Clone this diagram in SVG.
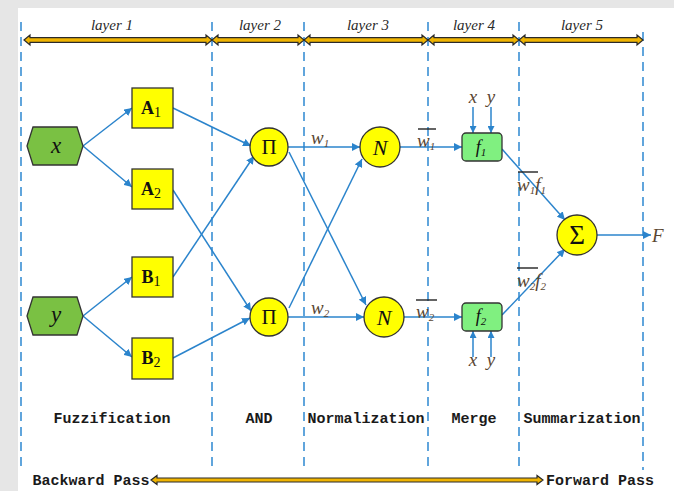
<svg xmlns="http://www.w3.org/2000/svg" width="674" height="491" viewBox="0 0 674 491">
<defs>
<marker id="arr" viewBox="0 0 10 10" refX="10" refY="5" markerWidth="8" markerHeight="8" markerUnits="userSpaceOnUse" orient="auto">
<path d="M0,0 L10,5 L0,10 z" fill="#2B84CC"/>
</marker>
<marker id="arrs" viewBox="0 0 10 10" refX="10" refY="5" markerWidth="7" markerHeight="7" markerUnits="userSpaceOnUse" orient="auto">
<path d="M0,0 L10,5 L0,10 z" fill="#2B84CC"/>
</marker>
</defs>
<style>
.dash{stroke:#3A8FD4;stroke-width:1.6;stroke-dasharray:9,6;fill:none}
.gold{fill:#F0B400;stroke:#2a2a2a;stroke-width:1.2}
.con line{stroke:#2B84CC;stroke-width:1.5;marker-end:url(#arr)}
.lay{font-family:"Liberation Serif",serif;font-style:italic;font-size:15px;fill:#2a2a2a;text-anchor:middle}
.bot{font-family:"Liberation Mono",monospace;font-weight:bold;font-size:15px;fill:#1a1a1a;text-anchor:middle}
.hex{fill:#7AC143;stroke:#333;stroke-width:1.3}
.box{fill:#FFFF00;stroke:#333;stroke-width:1.3}
.circ{fill:#FFFF00;stroke:#333;stroke-width:1.3}
.fbox{fill:#80F080;stroke:#333;stroke-width:1.3}
.lbl{font-family:"Liberation Serif",serif;font-style:italic;font-size:19px;fill:#5a4632}
.ov{stroke:#222;stroke-width:1.4}
.nt{font-family:"Liberation Serif",serif;text-anchor:middle;fill:#111}
</style>
<rect x="0" y="0" width="674" height="491" fill="#e6e6e6"/>
<rect x="18" y="8" width="656" height="483" fill="#ffffff"/>

<g id="grid">
<line class="dash" x1="21" y1="22" x2="21" y2="470"/>
<line class="dash" x1="212" y1="22" x2="212" y2="470"/>
<line class="dash" x1="304" y1="22" x2="304" y2="470"/>
<line class="dash" x1="428" y1="22" x2="428" y2="470"/>
<line class="dash" x1="519" y1="22" x2="519" y2="470"/>
<line class="dash" x1="643" y1="32" x2="643" y2="470"/>
</g>

<g id="layers">
<polygon class="gold" points="24,40 30,35 30,37.7 206,37.7 206,35 212,40 206,45 206,42.3 30,42.3 30,45"/>
<polygon class="gold" points="212,40 218,35 218,37.7 298,37.7 298,35 304,40 298,45 298,42.3 218,42.3 218,45"/>
<polygon class="gold" points="304,40 310,35 310,37.7 422,37.7 422,35 428,40 422,45 422,42.3 310,42.3 310,45"/>
<polygon class="gold" points="428,40 434,35 434,37.7 513,37.7 513,35 519,40 513,45 513,42.3 434,42.3 434,45"/>
<polygon class="gold" points="519,40 525,35 525,37.7 637,37.7 637,35 643,40 637,45 637,42.3 525,42.3 525,45"/>
<text class="lay" x="112" y="30">layer  1</text>
<text class="lay" x="260" y="30">layer 2</text>
<text class="lay" x="368" y="30">layer 3</text>
<text class="lay" x="474" y="30">layer 4</text>
<text class="lay" x="582" y="30">layer 5</text>
</g>

<g id="connectors" class="con">
<line x1="83" y1="146" x2="132" y2="108"/>
<line x1="83" y1="146" x2="132" y2="187"/>
<line x1="83" y1="316" x2="132" y2="277"/>
<line x1="83" y1="316" x2="132" y2="357"/>
<line x1="173" y1="108" x2="251" y2="146"/>
<line x1="173" y1="277" x2="254" y2="156"/>
<line x1="173" y1="190" x2="251" y2="311"/>
<line x1="173" y1="358" x2="250" y2="318"/>
<line x1="288" y1="147" x2="360" y2="147"/>
<line x1="289" y1="152" x2="366" y2="305"/>
<line x1="289" y1="308" x2="362" y2="159"/>
<line x1="288" y1="317" x2="364" y2="317"/>
<line x1="400" y1="147" x2="462" y2="147"/>
<line x1="404" y1="317" x2="462" y2="317"/>
<line x1="473" y1="107" x2="473" y2="133" style="marker-end:url(#arrs)"/>
<line x1="491" y1="107" x2="491" y2="133" style="marker-end:url(#arrs)"/>
<line x1="473" y1="357" x2="473" y2="331" style="marker-end:url(#arrs)"/>
<line x1="491" y1="357" x2="491" y2="331" style="marker-end:url(#arrs)"/>
<line x1="502" y1="149" x2="565" y2="220"/>
<line x1="502" y1="315" x2="565" y2="249"/>
<line x1="597" y1="235" x2="651" y2="235"/>
</g>

<g id="node-x">
<polygon class="hex" points="27,146 33,127 77,127 83,146 77,165 33,165"/>
<text class="nt" x="56" y="153" font-style="italic" font-size="23">x</text>
</g>
<g id="node-y">
<polygon class="hex" points="27,316 33,297 77,297 83,316 77,335 33,335"/>
<text class="nt" x="56" y="322" font-style="italic" font-size="23">y</text>
</g>
<g id="node-A1">
<rect class="box" x="132" y="88" width="41" height="40"/>
<text class="nt" x="151" y="114" font-size="18"><tspan font-weight="bold">A</tspan><tspan font-size="14" dy="3">1</tspan></text>
</g>
<g id="node-A2">
<rect class="box" x="132" y="169" width="41" height="40"/>
<text class="nt" x="151" y="195" font-size="18"><tspan font-weight="bold">A</tspan><tspan font-size="14" dy="3">2</tspan></text>
</g>
<g id="node-B1">
<rect class="box" x="132" y="257" width="41" height="40"/>
<text class="nt" x="151" y="283" font-size="18"><tspan font-weight="bold">B</tspan><tspan font-size="14" dy="3">1</tspan></text>
</g>
<g id="node-B2">
<rect class="box" x="132" y="338" width="41" height="41"/>
<text class="nt" x="151" y="364" font-size="18"><tspan font-weight="bold">B</tspan><tspan font-size="14" dy="3">2</tspan></text>
</g>
<g id="node-P1">
<circle class="circ" cx="269" cy="147" r="19"/>
<text class="nt" x="269" y="154" font-size="21">Π</text>
</g>
<g id="node-P2">
<circle class="circ" cx="269" cy="317" r="19"/>
<text class="nt" x="269" y="324" font-size="21">Π</text>
</g>
<g id="node-N1">
<circle class="circ" cx="380" cy="147" r="20"/>
<text class="nt" x="380" y="155" font-size="22" font-style="italic">N</text>
</g>
<g id="node-N2">
<circle class="circ" cx="384" cy="317" r="20"/>
<text class="nt" x="384" y="325" font-size="22" font-style="italic">N</text>
</g>
<g id="node-f1">
<rect class="fbox" x="462" y="133" width="40" height="28" rx="4"/>
<text class="nt" x="481" y="153" font-size="18" font-style="italic" fill="#3a3a2a">f<tspan font-size="11" dy="3">1</tspan></text>
</g>
<g id="node-f2">
<rect class="fbox" x="462" y="303" width="40" height="28" rx="4"/>
<text class="nt" x="481" y="322" font-size="18" font-style="italic" fill="#3a3a2a">f<tspan font-size="11" dy="3">2</tspan></text>
</g>
<g id="node-S">
<circle class="circ" cx="577" cy="235" r="20"/>
<text class="nt" x="577" y="244" font-size="27">Σ</text>
</g>

<g id="labels">
<text class="lbl" x="311" y="144">w<tspan font-size="11" dy="3">1</tspan></text>
<text class="lbl" x="311" y="314">w<tspan font-size="11" dy="3">2</tspan></text>
<text class="lbl" x="417" y="147">w<tspan font-size="11" dy="3">1</tspan></text>
<line class="ov" x1="418" y1="129" x2="436" y2="129"/>
<text class="lbl" x="416" y="318">w<tspan font-size="11" dy="3">2</tspan></text>
<line class="ov" x1="416" y1="300" x2="437" y2="300"/>
<text class="lbl" x="517" y="191">w<tspan font-size="11" dy="3">1</tspan><tspan dy="-3">f</tspan><tspan font-size="11" dy="3">1</tspan></text>
<line class="ov" x1="518" y1="172" x2="538" y2="172"/>
<text class="lbl" x="517" y="287">w<tspan font-size="11" dy="3">2</tspan><tspan dy="-3">f</tspan><tspan font-size="11" dy="3">2</tspan></text>
<line class="ov" x1="517" y1="268" x2="538" y2="268"/>
<text class="lbl" x="473" y="103" text-anchor="middle" font-size="15">x</text>
<text class="lbl" x="491" y="103" text-anchor="middle" font-size="15">y</text>
<text class="lbl" x="473" y="366" text-anchor="middle" font-size="15">x</text>
<text class="lbl" x="491" y="366" text-anchor="middle" font-size="15">y</text>
<text class="lbl" x="652" y="242" font-size="18" fill="#222">F</text>
</g>

<g id="stages">
<text class="bot" x="112" y="423">Fuzzification</text>
<text class="bot" x="259" y="423">AND</text>
<text class="bot" x="366" y="423">Normalization</text>
<text class="bot" x="474" y="423">Merge</text>
<text class="bot" x="582" y="423">Summarization</text>
</g>

<g id="pass">
<polygon class="gold" points="151,480 157,475.5 157,478 537,478 537,475.5 543,480 537,484.5 537,482 157,482 157,484.5"/>
<text class="bot" x="91" y="485">Backward Pass</text>
<text class="bot" x="600" y="485">Forward Pass</text>
</g>
</svg>
